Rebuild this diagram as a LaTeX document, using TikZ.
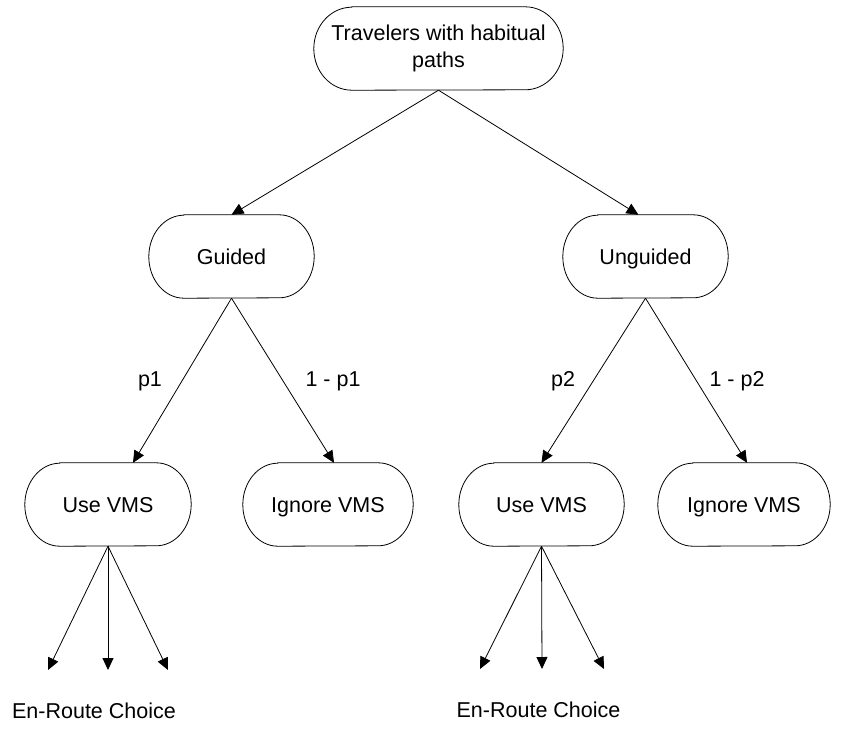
\documentclass[tikz,border=0pt]{standalone}
\usepackage{fontspec}
\setmainfont{Liberation Sans}
\usetikzlibrary{arrows.meta}
\begin{document}
\begin{tikzpicture}[x=1pt,y=1pt,
  txt/.style={font=\fontsize{21.5}{27}\selectfont, inner sep=0pt, align=center},
  pill/.style={txt, minimum height=83pt},
  oneline/.style={text height=15.4pt, text depth=0pt},
  link/.style={line width=0.8pt, -{Triangle[length=12pt,width=11pt]}},
  outline/.style={line width=0.8pt},
]
\useasboundingbox (0,0) rectangle (846,-734);

% pill-shaped outline with elliptic ends: #1 node, #2 horizontal end radius
\newcommand\pilloutline[2]{%
  \draw[outline] ([xshift=#2]#1.north west) -- ([xshift=-#2]#1.north east)
    arc[start angle=90, end angle=-90, x radius=#2, y radius=41.5]
    -- ([xshift=#2]#1.south west)
    arc[start angle=270, end angle=90, x radius=#2, y radius=41.5] -- cycle;}

% tree nodes
\node[pill, minimum width=249pt] (top) at (438.5,-48.5) {Travelers with habitual\\paths};
\node[pill, oneline, minimum width=165pt] (guided) at (231.5,-256.5) {Guided};
\node[pill, oneline, minimum width=165pt] (unguided) at (645.5,-256.5) {Unguided};
\node[pill, oneline, minimum width=166pt] (use1) at (108,-504.5) {Use VMS};
\node[pill, oneline, minimum width=170pt] (ign1) at (328,-504.5) {Ignore VMS};
\node[pill, oneline, minimum width=165pt] (use2) at (541.5,-504.5) {Use VMS};
\node[pill, oneline, minimum width=172pt] (ign2) at (744,-504.5) {Ignore VMS};

\pilloutline{top}{38}
\foreach \n in {guided,unguided,use1,ign1,use2,ign2} {\pilloutline{\n}{35}}

% branches
\draw[link] (top.south) -- (guided.north);
\draw[link] (top.south) -- ([xshift=-7pt]unguided.north);
\draw[link] (guided.south) -- ([xshift=25pt]use1.north);
\draw[link] (guided.south) -- ([xshift=6pt]ign1.north);
\draw[link] (unguided.south) -- (use2.north);
\draw[link] (unguided.south) -- ([xshift=3pt]ign2.north);

% branch probabilities
\node[txt, anchor=base] (lp1) at (150,-386) {p1};
\node[txt, anchor=base] (lq1) at (333,-386) {1 - p1};
\node[txt, anchor=base] (lp2) at (563,-386) {p2};
\node[txt, anchor=base] (lq2) at (737,-386) {1 - p2};

% en-route choices
\coordinate (e1a) at (48,-670);
\coordinate (e1b) at (108,-670);
\coordinate (e1c) at (168,-670);
\coordinate (e2a) at (480,-669);
\coordinate (e2b) at (542,-669);
\coordinate (e2c) at (604,-669);
\foreach \t in {e1a,e1b,e1c} {\draw[link] (use1.south) -- (\t);}
\foreach \t in {e2a,e2b,e2c} {\draw[link] (use2.south) -- (\t);}

\node[txt, anchor=base] (ch1) at (94,-718) {En-Route Choice};
\node[txt, anchor=base] (ch2) at (538.5,-717) {En-Route Choice};
\end{tikzpicture}
\end{document}
